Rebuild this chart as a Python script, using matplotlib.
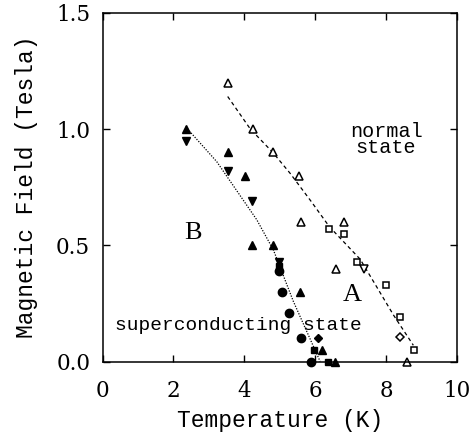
import matplotlib
matplotlib.use("Agg")
import matplotlib.pyplot as plt

# set B (filled symbols)
b_up_x = [2.35, 3.53, 4.03, 4.21, 4.80, 5.57, 6.19, 6.56]
b_up_y = [1.00, 0.90, 0.80, 0.50, 0.50, 0.30, 0.05, 0.00]
b_dn_x = [2.35, 3.53, 4.21, 4.99]
b_dn_y = [0.95, 0.82, 0.69, 0.43]
b_circ_x = [4.99, 5.07, 5.27, 5.59, 5.87]
b_circ_y = [0.39, 0.30, 0.21, 0.10, 0.00]
b_sq_x = [4.99, 5.98, 6.37]
b_sq_y = [0.41, 0.05, 0.00]
b_dia_x = [6.07]
b_dia_y = [0.10]

# set A (open symbols)
a_up_x = [3.53, 4.23, 4.80, 5.53, 5.60, 6.59, 6.80, 8.59]
a_up_y = [1.20, 1.00, 0.90, 0.80, 0.60, 0.40, 0.60, 0.00]
a_sq_x = [6.40, 6.80, 7.19, 7.99, 8.38, 8.78]
a_sq_y = [0.57, 0.55, 0.43, 0.33, 0.19, 0.05]
a_dn_x = [7.39]
a_dn_y = [0.40]
a_dia_x = [8.38]
a_dia_y = [0.105]

# guide lines
line_a_x = [3.53, 4.17, 4.80, 5.29, 5.88, 6.40, 7.27, 8.21, 8.77]
line_a_y = [1.14, 1.00, 0.90, 0.81, 0.69, 0.58, 0.44, 0.20, 0.07]
line_b_x = [2.34, 3.22, 4.35, 4.82, 5.38, 6.14]
line_b_y = [1.01, 0.86, 0.61, 0.48, 0.26, 0.00]

mono = "Liberation Mono"
serif = "DejaVu Serif"

fig = plt.figure(figsize=(4.73, 4.42), dpi=100)
ax = fig.add_axes([0.217, 0.182, 0.749, 0.789])

ax.plot(line_a_x, line_a_y, color="black", lw=0.9, ls=(0, (3, 2.5)))
ax.plot(line_b_x, line_b_y, color="black", lw=0.9, ls=(0, (1, 1.2)))

ms = 6
ax.plot(b_up_x, b_up_y, "^", color="black", ms=ms, clip_on=False)
ax.plot(b_dn_x, b_dn_y, "v", color="black", ms=ms, clip_on=False)
ax.plot(b_circ_x, b_circ_y, "o", color="black", ms=ms, clip_on=False)
ax.plot(b_sq_x, b_sq_y, "s", color="black", ms=5, clip_on=False)
ax.plot(b_dia_x, b_dia_y, "D", color="black", ms=4.5, clip_on=False)

ax.plot(a_up_x, a_up_y, "^", mfc="white", mec="black", mew=1.1, ms=ms, clip_on=False)
ax.plot(a_sq_x, a_sq_y, "s", mfc="white", mec="black", mew=1.1, ms=5, clip_on=False)
ax.plot(a_dn_x, a_dn_y, "v", mfc="white", mec="black", mew=1.1, ms=ms, clip_on=False)
ax.plot(a_dia_x, a_dia_y, "D", mfc="white", mec="black", mew=1.1, ms=4.5, clip_on=False)

ax.text(2.55, 0.555, "B", fontfamily="Liberation Serif", fontsize=19, ha="center", va="center")
ax.text(7.05, 0.285, "A", fontfamily="Liberation Serif", fontsize=19, ha="center", va="center")
ax.text(8.0, 0.955, "normal\nstate", fontfamily=mono, fontsize=14.5,
        ha="center", va="center", linespacing=0.85)
ax.text(0.35, 0.157, "superconducting state", fontfamily=mono, fontsize=14,
        ha="left", va="center")

ax.set_xlim(0, 10)
ax.set_ylim(0, 1.5)
ax.set_xticks([0, 2, 4, 6, 8, 10])
ax.set_yticks([0.0, 0.5, 1.0, 1.5])
ax.set_yticklabels(["0.0", "0.5", "1.0", "1.5"])
ax.tick_params(direction="in", top=True, right=True, length=5, width=1,
               labelsize=15.5)
ax.tick_params(axis="x", pad=13)
ax.tick_params(axis="y", pad=9)
for lab in ax.get_xticklabels() + ax.get_yticklabels():
    lab.set_fontfamily(serif)
    lab.set_fontweight("light")
for sp in ax.spines.values():
    sp.set_linewidth(1.1)

ax.set_xlabel("Temperature (K)", fontfamily=mono, fontsize=16.5, labelpad=5)
ax.set_ylabel("Magnetic Field (Tesla)", fontfamily=mono, fontsize=16.5, labelpad=13)

fig.savefig("out.png", dpi=100)
